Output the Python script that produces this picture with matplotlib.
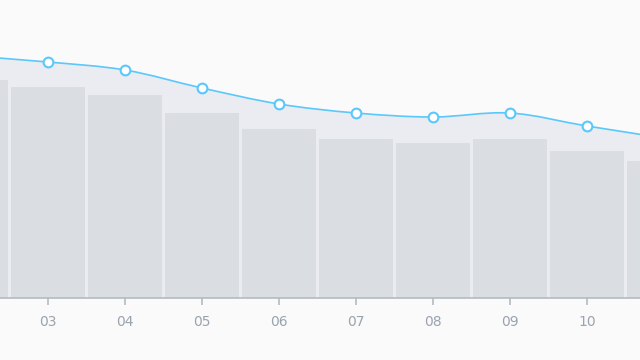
import numpy as np
import matplotlib
matplotlib.use('Agg')
import matplotlib.pyplot as plt
from matplotlib.path import Path
from matplotlib.patches import PathPatch

# data (02 and 11 are partly cut off at the edges)
months = [2, 3, 4, 5, 6, 7, 8, 9, 10, 11]
labels = ['02', '03', '04', '05', '06', '07', '08', '09', '10', '11']
bar_vals = [218, 211, 203, 185, 169, 159, 155, 159, 147, 137]
line_vals = [242, 236, 228, 210, 194, 185, 181, 185, 172, 160]

bg = '#fafafa'
fig = plt.figure(figsize=(6.4, 3.6), dpi=100, facecolor=bg)
ax = fig.add_axes([0, 62/360, 1, 298/360])
ax.set_facecolor(bg)

x = np.array(months, dtype=float)
y = np.array(line_vals, dtype=float)

# smooth curve with cubic bezier segments (catmull-rom style control points)
verts = [(x[0], y[0])]
codes = [Path.MOVETO]
for i in range(len(x) - 1):
    p0 = (x[i-1], y[i-1]) if i > 0 else (x[i], y[i])
    p3 = (x[i+2], y[i+2]) if i + 2 < len(x) else (x[i+1], y[i+1])
    c1 = (x[i] + (x[i+1] - p0[0]) / 6, y[i] + (y[i+1] - p0[1]) / 6)
    c2 = (x[i+1] - (p3[0] - x[i]) / 6, y[i+1] - (p3[1] - y[i]) / 6)
    verts += [c1, c2, (x[i+1], y[i+1])]
    codes += [Path.CURVE4] * 3

# area under the line
area_verts = verts + [(x[-1], 0), (x[0], 0), (x[0], y[0])]
area_codes = codes + [Path.LINETO, Path.LINETO, Path.CLOSEPOLY]
ax.add_patch(PathPatch(Path(area_verts, area_codes), facecolor='#eaecf1', edgecolor='none', zorder=1))

ax.bar(x, bar_vals, width=0.96, color='#dadde2', zorder=2)

ax.add_patch(PathPatch(Path(verts, codes), facecolor='none', edgecolor='#5ac8fa', lw=1.2, zorder=3))
ax.plot(x, y, 'o', ms=7, mfc='white', mec='#5ac8fa', mew=1.5, zorder=4)

ax.set_xticks(x)
ax.set_xticklabels(labels)
ax.set_yticks([])
ax.set_xlim(3 - 48/77, 3 - 48/77 + 640/77)
ax.set_ylim(0, 298)
for s in ['top', 'right', 'left']:
    ax.spines[s].set_visible(False)
ax.spines['bottom'].set_color('#b4bbc5')
ax.spines['bottom'].set_linewidth(1.2)
ax.tick_params(axis='x', length=5, width=1.2, color='#b4bbc5', labelcolor='#9aa3ae', labelsize=10, pad=7)

plt.savefig('out.png', dpi=100, facecolor=bg)
